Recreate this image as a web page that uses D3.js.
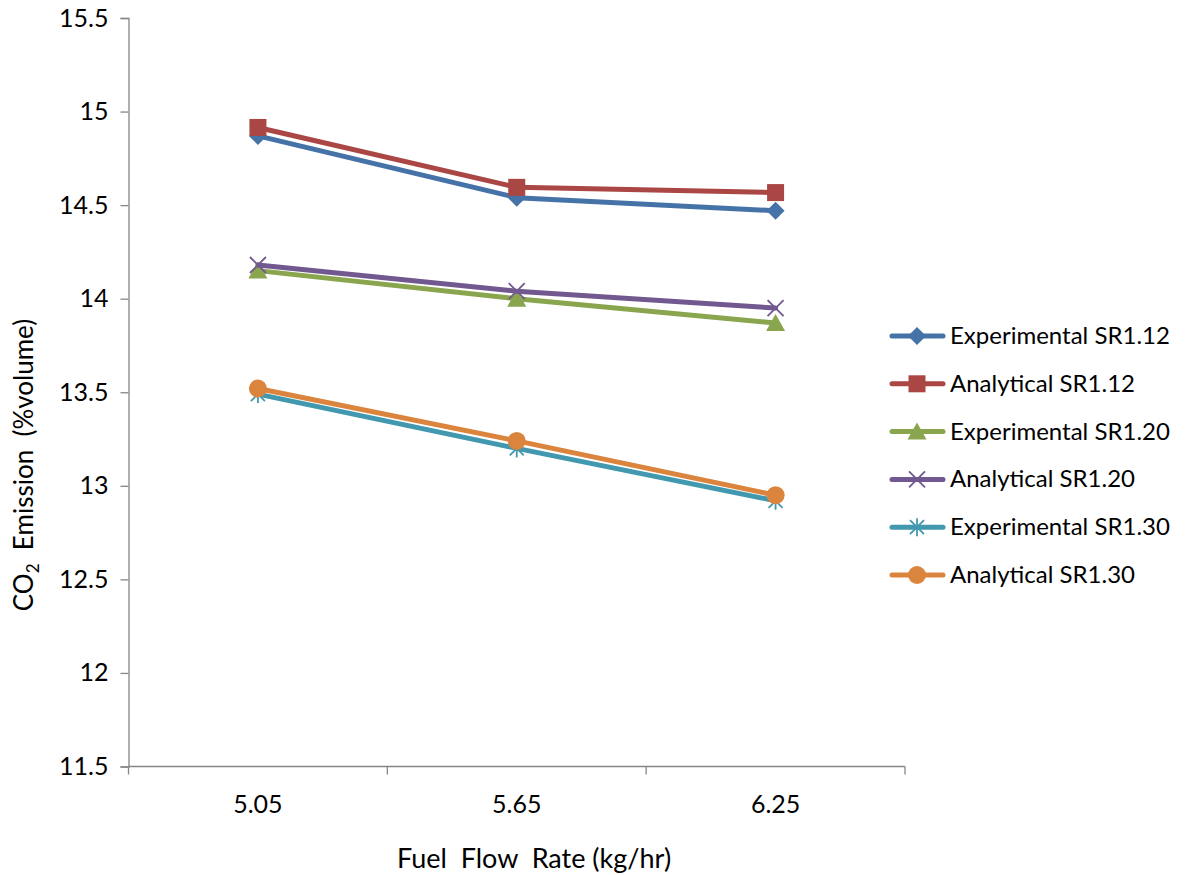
<!DOCTYPE html>
<html>
<head>
<meta charset="utf-8">
<script src="https://cdn.jsdelivr.net/npm/d3@7"></script>
<style>
  html, body { margin: 0; padding: 0; background: #fff; }
  svg text { font-family: Lato, "Open Sans", sans-serif; fill: #000; }
</style>
</head>
<body>
<svg id="chart" width="1185" height="875"></svg>
<script>
// Fuel flow rate categories (kg/hr)
const categories = ["5.05", "5.65", "6.25"];

// CO2 emission (%volume) for each stoichiometric ratio
const expSR112 = [14.87, 14.54, 14.47];
const anaSR112 = [14.915, 14.595, 14.567];
const expSR120 = [14.15, 14.0, 13.87];
const anaSR120 = [14.18, 14.04, 13.95];
const expSR130 = [13.49, 13.2, 12.92];
const anaSR130 = [13.52, 13.24, 12.95];

const seriesNames = [
  "Experimental SR1.12", "Analytical SR1.12",
  "Experimental SR1.20", "Analytical SR1.20",
  "Experimental SR1.30", "Analytical SR1.30"
];
const seriesValues = [expSR112, anaSR112, expSR120, anaSR120, expSR130, anaSR130];
const yTicks = [11.5, 12, 12.5, 13, 13.5, 14, 14.5, 15, 15.5];

const colors = ["#4572A7", "#AA4643", "#89A54E", "#71588F", "#4198AF", "#DB843D"];
const markers = ["diamond", "square", "triangle", "x", "star", "circle"];

const svg = d3.select("#chart");
const plot = { left: 128.5, right: 905, top: 18, bottom: 766.5 };

const x = d3.scaleBand().domain(categories).range([plot.left, plot.right]);
const y = d3.scaleLinear().domain([11.5, 15.5]).range([plot.bottom, plot.top]);

// Y axis
const yAxis = svg.append("g")
  .attr("transform", `translate(${plot.left},0)`)
  .call(d3.axisLeft(y).tickValues(yTicks).tickSize(8).tickPadding(12).tickFormat(d3.format("")));
yAxis.select(".domain").attr("stroke", "#868686").attr("stroke-width", 1.3);
yAxis.selectAll(".tick line").attr("stroke", "#868686").attr("stroke-width", 1.3);
yAxis.selectAll(".tick text").style("font-size", "25px").attr("fill", "#000");

// X axis (category boundaries carry the tick marks)
const xAxisG = svg.append("g").attr("transform", `translate(0,${plot.bottom})`);
xAxisG.append("line")
  .attr("x1", plot.left).attr("x2", plot.right)
  .attr("stroke", "#868686").attr("stroke-width", 1.3);
const boundaries = categories.map(c => x(c)).concat([x.range()[1]]);
xAxisG.selectAll("line.tick").data(boundaries).enter().append("line")
  .attr("class", "tick")
  .attr("x1", d => d).attr("x2", d => d)
  .attr("y1", 0).attr("y2", 8)
  .attr("stroke", "#868686").attr("stroke-width", 1.3);
xAxisG.selectAll("text").data(categories).enter().append("text")
  .attr("x", d => x(d) + x.bandwidth() / 2)
  .attr("y", 46)
  .attr("text-anchor", "middle")
  .style("font-size", "25px")
  .text(d => d);

// Axis titles
svg.append("text")
  .attr("x", 534).attr("y", 868)
  .attr("text-anchor", "middle")
  .style("font-size", "27px")
  .style("white-space", "pre")
  .text("Fuel  Flow  Rate (kg/hr)");

const yTitle = svg.append("text")
  .attr("transform", "translate(33,465) rotate(-90)")
  .attr("text-anchor", "middle")
  .style("font-size", "26px")
  .style("white-space", "pre");
yTitle.append("tspan").text("CO");
yTitle.append("tspan").attr("dy", 6).style("font-size", "17px").text("2");
yTitle.append("tspan").attr("dy", -6).text("  Emission  (%volume)");

// Marker drawing
function drawMarker(g, type, color) {
  switch (type) {
    case "diamond":
      g.append("path").attr("d", "M0,-9L9,0L0,9L-9,0Z").attr("fill", color);
      break;
    case "square":
      g.append("rect").attr("x", -8.5).attr("y", -8.5)
        .attr("width", 17).attr("height", 17).attr("fill", color);
      break;
    case "triangle":
      g.append("path").attr("d", "M0,-9L9.5,8L-9.5,8Z").attr("fill", color);
      break;
    case "x":
      g.append("path").attr("d", "M-8,-8L8,8M-8,8L8,-8")
        .attr("stroke", color).attr("stroke-width", 1.8).attr("fill", "none");
      break;
    case "star":
      g.append("path").attr("d", "M-7,-7L7,7M-7,7L7,-7M0,-9L0,9")
        .attr("stroke", color).attr("stroke-width", 1.8).attr("fill", "none");
      break;
    case "circle":
      g.append("circle").attr("r", 9).attr("fill", color);
      break;
  }
}

const line = d3.line()
  .x((d, i) => x(categories[i]) + x.bandwidth() / 2)
  .y(d => y(d));

// Series lines and markers
seriesValues.forEach((vals, si) => {
  const g = svg.append("g");
  g.append("path")
    .datum(vals)
    .attr("d", line)
    .attr("fill", "none")
    .attr("stroke", colors[si])
    .attr("stroke-width", 5)
    .attr("stroke-linejoin", "round")
    .attr("stroke-linecap", "round");
  vals.forEach((v, i) => {
    const mg = g.append("g")
      .attr("transform", `translate(${x(categories[i]) + x.bandwidth() / 2},${y(v)})`);
    drawMarker(mg, markers[si], colors[si]);
  });
});

// Legend
const legend = svg.append("g");
seriesNames.forEach((name, i) => {
  const ly = 336 + i * 47.8;
  const lg = legend.append("g").attr("transform", `translate(0,${ly})`);
  lg.append("line").attr("x1", 892).attr("x2", 943)
    .attr("stroke", colors[i]).attr("stroke-width", 5).attr("stroke-linecap", "round");
  const mg = lg.append("g").attr("transform", "translate(917,0)");
  drawMarker(mg, markers[i], colors[i]);
  lg.append("text").attr("x", 950).attr("y", 8).style("font-size", "24px").text(name);
});
</script>
</body>
</html>
